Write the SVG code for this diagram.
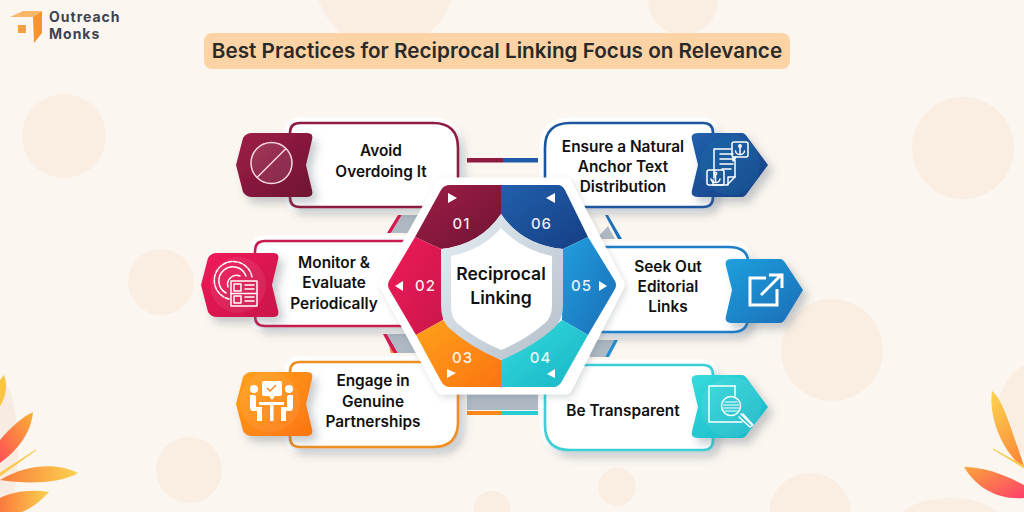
<svg xmlns="http://www.w3.org/2000/svg" width="1024" height="512" viewBox="0 0 1024 512">
<style>
text{font-family:"Inter","Liberation Sans",sans-serif;font-weight:600;text-anchor:middle;fill:#111}
.lbl{font-size:15.4px;transform:translateY(.6px)}
.num{font-size:15px;font-weight:500;fill:#fff;letter-spacing:1px;fill-opacity:.92}
.deco{fill:#faeee2}
.halo{fill:#fff;stroke:#fff;stroke-width:11;stroke-linejoin:round}
.box{fill:#fff;stroke-width:2.6}
.ic{fill:none;stroke:#fff;stroke-width:1.5;stroke-linejoin:round;stroke-linecap:round}
.icb{fill:none;stroke:#fff;stroke-width:3;stroke-linejoin:miter}
.f{fill:#fff}
.tint{fill:#fff;fill-opacity:.07}
.gray{fill:#aeb9c3}
.logo{font-size:14px;font-weight:700;text-anchor:start;fill:#3d4350;letter-spacing:1px}
</style>
<defs>
<linearGradient id="g1" x1="0" y1="0" x2="1" y2="1"><stop offset="0" stop-color="#a01d47"/><stop offset="1" stop-color="#6e1433"/></linearGradient>
<linearGradient id="g2" x1="0" y1="0" x2="1" y2="1"><stop offset="0" stop-color="#f01a57"/><stop offset="1" stop-color="#c9174b"/></linearGradient>
<linearGradient id="g3" x1="0" y1="0" x2="1" y2="1"><stop offset="0" stop-color="#ffa21c"/><stop offset="1" stop-color="#fb7410"/></linearGradient>
<linearGradient id="g4" x1="0" y1="0" x2="1" y2="1"><stop offset="0" stop-color="#34dcdc"/><stop offset="1" stop-color="#18b4c6"/></linearGradient>
<linearGradient id="g5" x1="0" y1="0" x2="1" y2="1"><stop offset="0" stop-color="#20a0de"/><stop offset="1" stop-color="#1a6cb6"/></linearGradient>
<linearGradient id="g6" x1="0" y1="0" x2="1" y2="1"><stop offset="0" stop-color="#2160ac"/><stop offset="1" stop-color="#163e84"/></linearGradient>
<linearGradient id="shield" x1="0" y1="0" x2="1" y2="1"><stop offset="0" stop-color="#e6eef4"/><stop offset="1" stop-color="#b4bfc9"/></linearGradient>
<linearGradient id="lf1" x1="0" y1="1" x2="1" y2="0"><stop offset="0" stop-color="#ff4f55"/><stop offset="1" stop-color="#f9b233"/></linearGradient>
<linearGradient id="lf2" x1="0" y1="0" x2="1" y2="0"><stop offset="0" stop-color="#fa7a3c"/><stop offset="1" stop-color="#fbd24e"/></linearGradient>
<linearGradient id="lf3" x1="1" y1="1" x2="0" y2="0"><stop offset="0" stop-color="#ff3f6a"/><stop offset="1" stop-color="#f9a63a"/></linearGradient>
<linearGradient id="lf4" x1="0.6" y1="1" x2="0.2" y2="0"><stop offset="0" stop-color="#fb8a3a"/><stop offset="1" stop-color="#fbd04e"/></linearGradient>
<filter id="sh" x="-20%" y="-20%" width="150%" height="150%"><feDropShadow dx="5" dy="6" stdDeviation="4" flood-color="#55626e" flood-opacity=".32"/></filter>
<filter id="shl" x="-20%" y="-20%" width="140%" height="140%"><feDropShadow dx="2" dy="3" stdDeviation="3" flood-color="#55626e" flood-opacity=".22"/></filter>
</defs>

<rect width="1024" height="512" fill="#fbf6f0"/>
<g id="background">
<circle class="deco" cx="64" cy="136" r="42"/>
<circle class="deco" cx="161" cy="282" r="33"/>
<circle class="deco" cx="963" cy="148" r="51"/>
<circle class="deco" cx="832" cy="350" r="51"/>
<circle class="deco" cx="189" cy="470" r="33"/>
<circle class="deco" cx="492" cy="510" r="19"/>
<circle class="deco" cx="617" cy="487" r="19"/>
<circle class="deco" cx="810" cy="514" r="41"/>
<circle class="deco" cx="385" cy="-22" r="70"/>
<circle class="deco" cx="683" cy="0" r="35"/>
<circle class="deco" cx="1050" cy="410" r="52"/>
<ellipse class="deco" cx="950" cy="520" rx="50" ry="22"/>
<ellipse cx="0" cy="450" rx="18" ry="70" fill="#f8ece2"/>
</g>

<g id="logo">
<polygon points="10,17 23,11 42,11 33,17" fill="#fbb668"/>
<polygon points="33,17 42,11 42,33 34,43" fill="#f7942e"/>
<rect x="18" y="25" width="8" height="8" fill="#f99f3d"/>
<text class="logo" x="49" y="22">Outreach</text>
<text class="logo" x="49" y="39">Monks</text>
</g>

<g id="title">
<rect x="204" y="33" width="586" height="36" rx="8" fill="#fbd3a4"/>
<text x="497" y="58" style="font-size:20.7px;fill:#2a2a2a">Best Practices for Reciprocal Linking Focus on Relevance</text>
</g>

<g id="leaves">
<path d="M4,375 C9,388 4,400 0,406 L0,380 Z" fill="#fbc543"/>
<path d="M33,412 C31,435 15,452 0,463 L0,440 C10,428 22,417 33,412 Z" fill="url(#lf1)"/>
<path d="M36,450 L0,473 L0,476 Z" fill="#fbc94e" stroke="#fbc94e" stroke-width="1"/>
<path d="M78,473 C60,464 30,462 0,480 C25,484 60,484 78,473 Z" fill="url(#lf2)"/>
<path d="M49,492 C30,489 12,492 0,498 L0,512 L22,512 C32,508 42,500 49,492 Z" fill="url(#lf2)"/>
<path d="M992,391 C1002,398 1010,425 1024,466 L1024,468 C1005,455 988,420 992,391 Z" fill="url(#lf4)"/>
<path d="M993,449 L1024,468 L1024,466 Z" fill="#fbc94e" stroke="#fbc94e" stroke-width="1"/>
<path d="M964,467 C985,467 1005,475 1024,485 L1024,498 C1000,500 978,490 964,467 Z" fill="url(#lf3)"/>
</g>

<g id="connectors">
<rect x="467" y="158" width="36" height="4.5" fill="#8f1a40"/>
<rect x="503" y="158" width="35" height="4.5" fill="#1f5aa8"/>
<rect x="467" y="392" width="71" height="18" class="gray"/>
<rect x="467" y="411" width="35" height="4" fill="#f6871a"/>
<rect x="502" y="411" width="36" height="4" fill="#27cdd3"/>
<polygon points="398,215 402,215 391,233 387,233" fill="#d6184e"/>
<polygon points="402,215 425,215 412,233 391,233" class="gray"/>
<polygon points="605,215 608,215 622,239 618,239" fill="#1b70b8"/>
<polygon points="596,239 608,226 615,239" class="gray"/>
<polygon points="383,334 387,334 398,353 393,353" fill="#d6184e"/>
<polygon points="389,347 394,353 391,353" fill="#f6871a"/>
<polygon points="387,334 415,334 420,353 398,353" class="gray"/>
<polygon points="614,340 618,340 609,357 605,357" fill="#1f8fd2"/>
<polygon points="614,340 590,340 590,357 605,357" class="gray"/>
</g>

<g id="node-1">
<path class="halo" d="M300,123H433Q458,123 458,148V207H300Q290,207 290,197V133Q290,123 300,123Z"/>
<path class="box" filter="url(#sh)" stroke="#8f1a40" d="M300,123H433Q458,123 458,148V207H300Q290,207 290,197V133Q290,123 300,123Z"/>
<path filter="url(#sh)" fill="url(#g1)" d="M252,133H307Q314,133 312,140L306,165L312,190Q314,197 307,197H252Q246,197 243,192L236,165L243,138Q246,133 252,133Z"/>
<circle cx="271.500" cy="163" r="20.500" fill="#fff" fill-opacity=".1" stroke="#f6d9df" stroke-width="1.500"/>
<line x1="257" y1="177.500" x2="286" y2="148.500" stroke="#f6d9df" stroke-width="1.500"/>
<text class="lbl" x="381" y="155">Avoid</text>
<text class="lbl" x="381" y="176">Overdoing It</text>
</g>

<g id="node-2">
<path class="halo" d="M265,241H430V326H265Q255,326 255,316V251Q255,241 265,241Z"/>
<path class="box" filter="url(#sh)" stroke="#c81c50" d="M265,241H430V326H265Q255,326 255,316V251Q255,241 265,241Z"/>
<path filter="url(#sh)" fill="url(#g2)" d="M217,253H273Q280,253 278,260L272,285L278,310Q280,317 273,317H217Q211,317 208,312L201,285L208,258Q211,253 217,253Z"/>
<circle cx="238" cy="285" r="28" class="tint"/>
<g class="ic">
<path d="M229,299A19,19 0 1 1 252,277" stroke-dasharray="4 1.500"/>
<path d="M226,293A14,14 0 1 1 246,276"/>
<path d="M228,287A9,9 0 0 1 240,276"/>
<rect x="231" y="281" width="26" height="25"/>
<line x1="231" y1="293.500" x2="257" y2="293.500"/>
<rect x="234" y="284" width="7" height="7"/>
<rect x="234" y="296" width="7" height="7"/>
<path d="M245,285H254M245,289H254M245,297H254M245,301H254"/>
</g>
<text class="lbl" x="334" y="267">Monitor &amp;</text>
<text class="lbl" x="334" y="287">Evaluate</text>
<text class="lbl" x="334" y="308">Periodically</text>
</g>

<g id="node-3">
<path class="halo" d="M300,362H458V422Q458,447 433,447H300Q290,447 290,437V372Q290,362 300,362Z"/>
<path class="box" filter="url(#sh)" stroke="#ef8f22" d="M300,362H458V422Q458,447 433,447H300Q290,447 290,437V372Q290,362 300,362Z"/>
<path filter="url(#sh)" fill="url(#g3)" d="M252,372H307Q314,372 312,379L306,404L312,429Q314,436 307,436H252Q246,436 243,431L236,404L243,377Q246,372 252,372Z"/>
<circle cx="270" cy="402" r="30" class="tint"/>
<g class="f">
<circle cx="254" cy="389" r="4"/>
<circle cx="289" cy="389" r="4"/>
<path d="M264,381H280Q282,381 282,383V394Q282,396 280,396H275L272,400L269,396H264Q262,396 262,394V383Q262,381 264,381Z"/>
<path d="M250,395H254Q256,395 256,398V407H262V421H257V411H253Q250,411 250,407Z"/>
<path d="M293,395H289Q287,395 287,398V407H281V421H286V411H290Q293,411 293,407Z"/>
<rect x="259" y="402" width="25" height="3"/>
<rect x="270" y="402" width="3.500" height="19"/>
</g>
<path d="M267,388L270,391L276,385" fill="none" stroke="#f6871a" stroke-width="1.500"/>
<text class="lbl" x="373" y="385">Engage in</text>
<text class="lbl" x="373" y="406">Genuine</text>
<text class="lbl" x="373" y="426">Partnerships</text>
</g>

<g id="node-4">
<path class="halo" d="M545,365H703Q713,365 713,375V440Q713,450 703,450H570Q545,450 545,425Z"/>
<path class="box" filter="url(#sh)" stroke="#3ccfd6" d="M545,365H703Q713,365 713,375V440Q713,450 703,450H570Q545,450 545,425Z"/>
<path filter="url(#sh)" fill="url(#g4)" d="M698,375H742Q745,375 748,380L768,407L748,433Q745,438 742,438H698Q690,438 692,431L698,407L692,382Q690,375 698,375Z"/>
<circle cx="731" cy="407" r="30" class="tint"/>
<g class="ic">
<path d="M735,386H709V422H742"/>
<path d="M735,386V396"/>
<circle cx="731" cy="406" r="9.500"/>
<path d="M725,402H737M723.500,405H738.500M723.500,408H738.500M725,411H737" stroke-width="1.200"/>
<path d="M741,414L752,425"/>
<path d="M739,417L750,427L753,425L743,414"/>
</g>
<text class="lbl" x="623" y="415">Be Transparent</text>
</g>

<g id="node-5">
<path class="halo" d="M590,247H728Q748,247 748,262V317Q748,332 733,332H590Z"/>
<path class="box" filter="url(#sh)" stroke="#1f80c8" d="M590,247H728Q748,247 748,262V317Q748,332 733,332H590Z"/>
<path filter="url(#sh)" fill="url(#g5)" d="M732,259H780Q783,259 786,264L803,290L786,318Q783,323 780,323H732Q724,323 726,316L732,290L726,266Q724,259 732,259Z"/>
<path class="icb" d="M766,278H750V305H777V289"/>
<path class="icb" d="M761,295L781,275M769,275H782V288"/>
<text class="lbl" x="668" y="271">Seek Out</text>
<text class="lbl" x="668" y="291">Editorial</text>
<text class="lbl" x="668" y="311">Links</text>
</g>

<g id="node-6">
<path class="halo" d="M570,123H703Q713,123 713,133V197Q713,207 703,207H545V148Q545,123 570,123Z"/>
<path class="box" filter="url(#sh)" stroke="#1d569f" d="M570,123H703Q713,123 713,133V197Q713,207 703,207H545V148Q545,123 570,123Z"/>
<path filter="url(#sh)" fill="url(#g6)" d="M698,133H742Q745,133 748,138L768,165L748,192Q745,197 742,197H698Q690,197 692,190L698,165L692,140Q690,133 698,133Z"/>
<circle cx="730" cy="165" r="30" fill="#1b7ea8" fill-opacity=".22"/>
<g class="ic" stroke-width="1.300">
<path d="M731,149H714V178"/>
<path d="M720,154H733M720,159H733M720,164H733M722,169H731"/>
<path d="M735,160V177L727,185H713V180"/>
<path d="M735,177H728V185"/>
<rect x="732" y="142" width="16" height="15" rx="2"/>
<path d="M736,157L733,161V157"/>
<circle cx="740" cy="146" r="1.200"/>
<path d="M740,147V154M735.500,151Q736,154.500 740,154.500Q744,154.500 744.500,151"/>
<rect x="707" y="170" width="17" height="15" rx="2"/>
<circle cx="715.500" cy="173.500" r="1.200"/>
<path d="M715.500,175V182M711,179Q711.500,182.500 715.500,182.500Q719.500,182.500 720,179"/>
</g>
<text class="lbl" x="623" y="151">Ensure a Natural</text>
<text class="lbl" x="623" y="171">Anchor Text</text>
<text class="lbl" x="623" y="191">Distribution</text>
</g>

<g id="hub">
<path d="M443,185H565L617,285L565,387H443L387,285Z" fill="#fff" stroke="#fff" stroke-width="15" stroke-linejoin="round" filter="url(#shl)"/>
<path fill="url(#g1)" d="M501,185H450Q444,185 441,190L415,237L441,249Q480,245 501,214Z"/>
<path fill="url(#g6)" d="M501,185H558Q562,185 565,190L588,237L563,249Q522,245 501,214Z"/>
<path fill="url(#g2)" d="M415,237L389,281Q387,285 389,289L416,335L443,320L441,249Z"/>
<path fill="url(#g5)" d="M588,237L615,281Q617,285 615,289L588,335L562,320L563,249Z"/>
<path fill="url(#g3)" d="M416,335L441,381Q444,387 450,387H501V360Q470,345 443,320Z"/>
<path fill="url(#g4)" d="M588,335L562,381Q559,387 553,387H501V360Q535,345 562,320Z"/>
<path d="M501,214Q480,245 441,249V305Q441,320 449,328Q470,347 501,360Q533,347 554,328Q563,320 563,305V249Q522,245 501,214Z" fill="url(#shield)"/>
<path d="M501,228Q482,250 451,256V305Q451,317 457,323Q475,339 501,350Q527,339 545,323Q552,317 552,305V256Q522,250 501,228Z" fill="#fff"/>
<text x="501" y="280" style="font-size:17.5px">Reciprocal</text>
<text x="501" y="304" style="font-size:17.5px">Linking</text>
<text class="num" x="461.500" y="229">01</text>
<text class="num" x="541.500" y="229">06</text>
<text class="num" x="425.500" y="291">02</text>
<text class="num" x="581.500" y="291">05</text>
<text class="num" x="462.500" y="363">03</text>
<text class="num" x="540.500" y="363">04</text>
<g class="f">
<polygon points="448,193 457,198 448,203"/>
<polygon points="555,193 546,198 555,203"/>
<polygon points="403,281 395,286 403,291"/>
<polygon points="599,281 607,286 599,291"/>
<polygon points="447,369 456,373 447,378"/>
<polygon points="555,369 547,374 555,378"/>
</g>
</g>
</svg>
